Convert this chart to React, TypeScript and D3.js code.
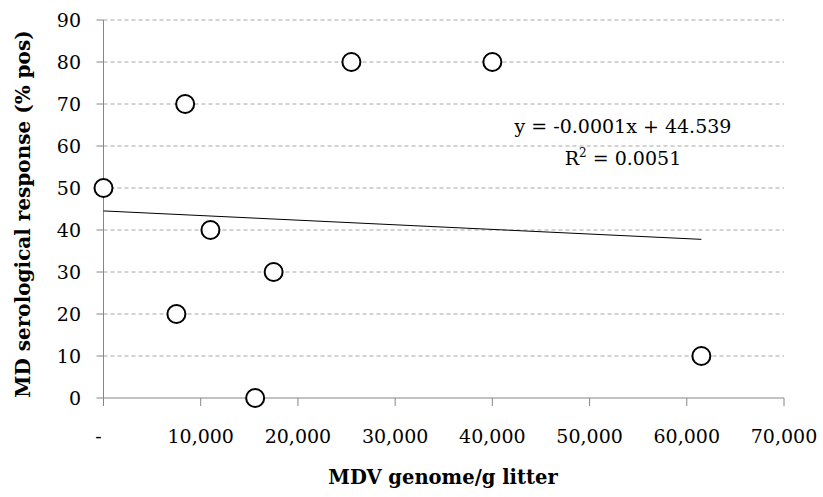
import React from "react";
import * as d3 from "d3";

const xValues = [0, 8400, 7500, 15600, 11000, 17500, 25500, 40000, 61500];
const yValues = [50, 70, 20, 0, 40, 30, 80, 80, 10];
const xTicks = [0, 10000, 20000, 30000, 40000, 50000, 60000, 70000];
const yTicks = [0, 10, 20, 30, 40, 50, 60, 70, 80, 90];
const trendIntercept = 44.539;
const trendSlope = -0.00011;
const trendRange = [0, 61500];

const W = 823;
const H = 497;
const FONT = "'DejaVu Serif', 'Liberation Serif', serif";

export default function App() {
  const x = d3.scaleLinear().domain([0, 70000]).range([103.5, 784]);
  const y = d3.scaleLinear().domain([0, 90]).range([398, 20]);
  const fmt = d3.format(",");
  const line = d3
    .line<number>()
    .x((d) => x(d))
    .y((d) => y(trendIntercept + trendSlope * d));
  return (
    <svg width={W} height={H} style={{ position: "absolute", left: 0, top: 0, background: "#fff" }}>
      {yTicks.slice(1).map((t) => (
        <line key={"g" + t} x1={x(0)} x2={x(70000)} y1={y(t)} y2={y(t)} stroke="#a6a6a6" strokeWidth={1} strokeDasharray="4,3" />
      ))}
      <line x1={x(0)} x2={x(0)} y1={y(0)} y2={y(90)} stroke="#868686" strokeWidth={1} />
      <line x1={x(0)} x2={x(70000)} y1={y(0)} y2={y(0)} stroke="#868686" strokeWidth={1} />
      {yTicks.map((t) => (
        <g key={"y" + t}>
          <line x1={x(0) - 7} x2={x(0)} y1={y(t)} y2={y(t)} stroke="#868686" />
          <text x={81} y={y(t)} dy="0.36em" textAnchor="end" fontFamily={FONT} fontSize={19} fill="#000">
            {t}
          </text>
        </g>
      ))}
      {xTicks.map((t) => (
        <g key={"x" + t}>
          <line x1={x(t)} x2={x(t)} y1={y(0)} y2={y(0) + 8} stroke="#868686" />
          <text x={t === 0 ? x(t) - 5 : x(t)} y={443} textAnchor="middle" fontFamily={FONT} fontSize={19} fill="#000">
            {t === 0 ? "-" : fmt(t)}
          </text>
        </g>
      ))}
      <path d={line(trendRange) || ""} stroke="#000" strokeWidth={1} fill="none" />
      {xValues.map((xv, i) => (
        <circle key={"p" + i} cx={x(xv)} cy={y(yValues[i])} r={9} fill="#fff" stroke="#000" strokeWidth={2} />
      ))}
      <text x={623} y={133} textAnchor="middle" fontFamily={FONT} fontSize={19} fill="#000">
        y = -0.0001x + 44.539
      </text>
      <text x={623} y={165} textAnchor="middle" fontFamily={FONT} fontSize={19} fill="#000">
        R<tspan dy={-8} fontSize={12}>2</tspan>
        <tspan dy={8}> = 0.0051</tspan>
      </text>
      <text
        transform={`translate(30, 214) rotate(-90)`}
        textAnchor="middle"
        fontFamily={FONT}
        fontSize={20}
        fontWeight="bold"
        fill="#000"
      >
        MD serological response (% pos)
      </text>
      <text x={443} y={484} textAnchor="middle" fontFamily={FONT} fontSize={19.5} fontWeight="bold" fill="#000">
        MDV genome/g litter
      </text>
    </svg>
  );
}
